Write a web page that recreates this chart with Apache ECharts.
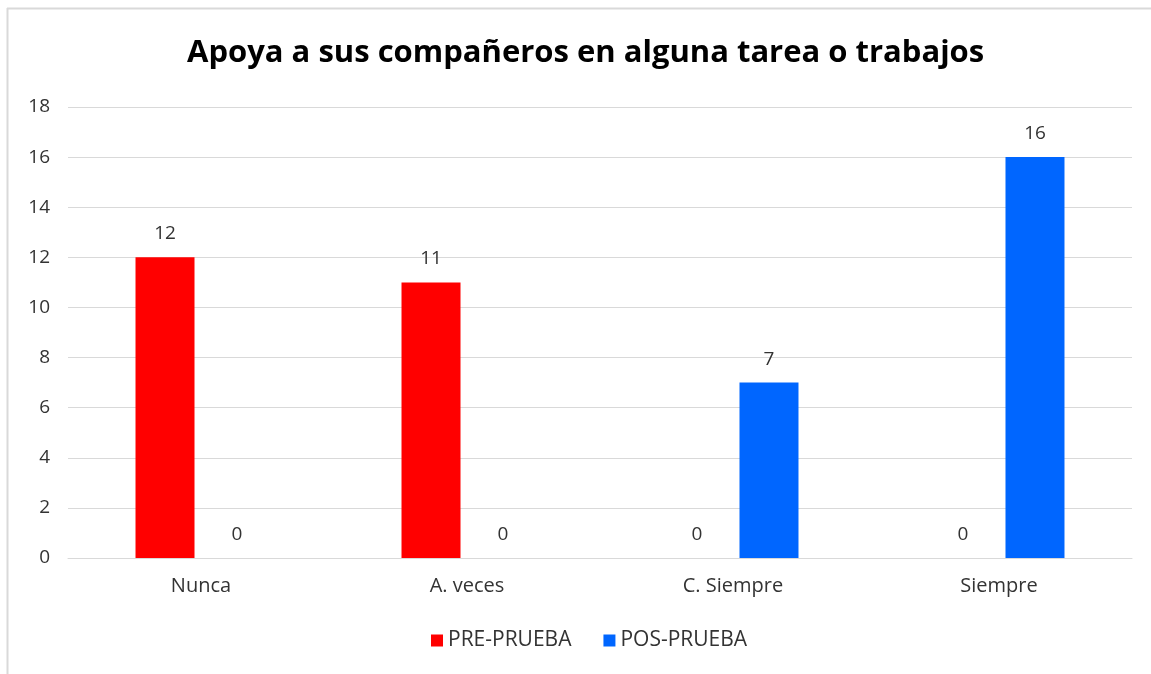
<!DOCTYPE html>
<html>
<head>
<meta charset="utf-8">
<title>Apoya a sus compañeros</title>
<script src="https://cdn.jsdelivr.net/npm/echarts@6/dist/echarts.min.js"></script>
<style>
  html, body { margin: 0; padding: 0; background: #fff; }
  #chart { width: 1151px; height: 674px; }
</style>
</head>
<body>
<div id="chart"></div>
<script>
  var categories = ['Nunca', 'A. veces', 'C. Siempre', 'Siempre'];
  var preValues = [12, 11, 0, 0];
  var posValues = [0, 0, 7, 16];
  var seriesNames = ['PRE-PRUEBA', 'POS-PRUEBA'];

  var font = '"Open Sans", Lato, sans-serif';
  var txt = '#333333';
  var chart = echarts.init(document.getElementById('chart'));

  var valueLabel = { show: true, position: 'top', distance: 14, fontSize: 19, color: txt, fontFamily: font };

  chart.setOption({
    animation: false,
    textStyle: { fontFamily: font },
    title: {
      text: 'Apoya a sus compañeros en alguna tarea o trabajos',
      left: 182,
      top: 33,
      textStyle: { fontSize: 31, fontWeight: 'bold', color: '#000', fontFamily: font }
    },
    // light frame round the chart, like the original screenshot
    graphic: [
      { type: 'line', shape: { x1: 7, y1: 8.5, x2: 1151, y2: 8.5 }, style: { stroke: '#d9d9d9', lineWidth: 2 } },
      { type: 'line', shape: { x1: 7.5, y1: 8, x2: 7.5, y2: 674 }, style: { stroke: '#d9d9d9', lineWidth: 2 } }
    ],
    legend: {
      data: seriesNames,
      bottom: 18,
      left: 426,
      itemWidth: 12,
      itemHeight: 12,
      itemGap: 32,
      icon: 'rect',
      textStyle: { fontSize: 21, color: txt, fontFamily: font }
    },
    grid: {
      left: 68,
      right: 19,
      top: 107,
      bottom: 116
    },
    xAxis: {
      type: 'category',
      data: categories,
      axisLine: { lineStyle: { color: '#d9d9d9', width: 1 } },
      axisTick: { show: false },
      axisLabel: { fontSize: 20, color: txt, margin: 18, fontFamily: font }
    },
    yAxis: {
      type: 'value',
      min: 0,
      max: 18,
      interval: 2,
      axisLine: { show: false },
      axisTick: { show: false },
      splitLine: { lineStyle: { color: '#d9d9d9', width: 1 } },
      axisLabel: { fontSize: 19, color: txt, margin: 18, fontFamily: font }
    },
    series: [
      {
        name: seriesNames[0],
        type: 'bar',
        data: preValues,
        barWidth: 59,
        barGap: '22%',
        itemStyle: { color: '#ff0000' },
        label: valueLabel
      },
      {
        name: seriesNames[1],
        type: 'bar',
        data: posValues,
        barWidth: 59,
        itemStyle: { color: '#0066ff' },
        label: valueLabel
      }
    ]
  });
</script>
</body>
</html>
